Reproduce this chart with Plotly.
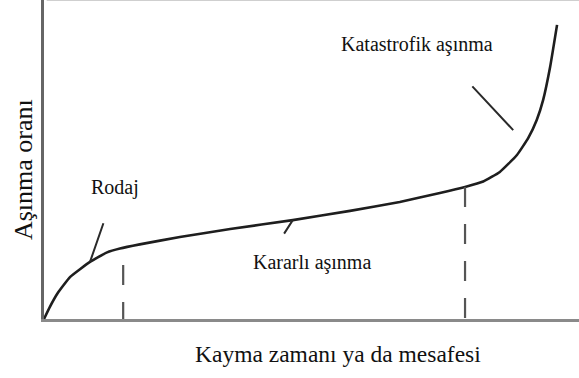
import plotly.graph_objects as go

# Wear curve: sliding distance (x) vs wear rate (y), arbitrary units 0-100
distance = [0.0, 1.1, 2.6, 4.9, 8.6, 11.8, 14.2, 17.9, 25.4, 34.8, 46.5, 57.2,
            66.5, 74.0, 78.7, 82.1, 85.2, 88.4, 90.5, 92.1, 93.3, 94.6, 95.9]
wear_rate = [0.0, 3.8, 8.2, 13.2, 17.9, 20.9, 22.1, 23.4, 25.7, 28.2, 31.0, 33.9,
             36.7, 39.5, 41.4, 43.1, 46.1, 51.4, 56.7, 62.4, 68.7, 79.0, 92.2]

# Boundaries between the wear regimes (x) and the heights the dashed markers reach
regime_bounds = [14.8, 78.7]
bound_tops = [16.9, 41.4]

# Regime labels: text, label position, leader line (from -> to)
labels = ["Rodaj", "Kararlı aşınma", "Katastrofik aşınma"]
label_x = [13.3, 50.1, 69.7]
label_y = [41.1, 17.6, 85.9]
leader_from_x = [8.6, 46.5, 87.7]
leader_from_y = [17.9, 31.0, 59.2]
leader_to_x = [11.2, 44.7, 79.8]
leader_to_y = [30.5, 26.3, 73.4]

x_title = "Kayma zamanı ya da mesafesi"
y_title = "Aşınma oranı"

SERIF = "Liberation Serif, Times New Roman, serif"

fig = go.Figure()

fig.add_trace(go.Scatter(
    x=distance, y=wear_rate, mode="lines",
    line=dict(color="#1e1e1e", width=2.6, shape="spline", smoothing=0.4),
    hoverinfo="skip", showlegend=False,
))

for bx, top in zip(regime_bounds, bound_tops):
    fig.add_trace(go.Scatter(
        x=[bx, bx], y=[top, 0], mode="lines",
        line=dict(color="#555555", width=2.2, dash="20px,17px"),
        hoverinfo="skip", showlegend=False,
    ))

annotations = []
for fx, fy, tx, ty in zip(leader_from_x, leader_from_y, leader_to_x, leader_to_y):
    annotations.append(dict(
        x=fx, y=fy, ax=tx, ay=ty, xref="x", yref="y", axref="x", ayref="y",
        text="", showarrow=True, arrowhead=0, arrowwidth=2, arrowcolor="#2a2a2a",
        standoff=0, startstandoff=0,
    ))
for txt, lx, ly in zip(labels, label_x, label_y):
    annotations.append(dict(
        x=lx, y=ly, xref="x", yref="y", text=txt, showarrow=False,
        font=dict(family=SERIF, size=20, color="#111111"),
        xanchor="center", yanchor="middle",
    ))

annotations.append(dict(
    x=(338 - 44) / 535, y=0, xref="paper", yref="paper", yshift=-35,
    text=x_title, showarrow=False, xanchor="center", yanchor="middle",
    font=dict(family=SERIF, size=23.5, color="#111111"),
))
annotations.append(dict(
    x=0, y=0.467, xref="paper", yref="paper", xshift=-21,
    text=y_title, showarrow=False, textangle=-90, xanchor="center", yanchor="middle",
    font=dict(family=SERIF, size=26, color="#111111"),
))

fig.update_layout(
    width=579, height=378,
    margin=dict(l=44, r=0, t=0, b=59),
    paper_bgcolor="white", plot_bgcolor="white",
    annotations=annotations,
    shapes=[dict(type="line", xref="paper", yref="paper", x0=0.005, x1=1, y0=1, y1=1,
                 line=dict(color="#cfcfcf", width=2))],
    xaxis=dict(range=[0, 100], showgrid=False, zeroline=False, showticklabels=False,
               ticks="", showline=True, linecolor="#8a8a8a", linewidth=2.5, fixedrange=True),
    yaxis=dict(range=[0, 100], showgrid=False, zeroline=False, showticklabels=False,
               ticks="", showline=True, linecolor="#666666", linewidth=2.5, fixedrange=True),
)

fig.write_html("out.html", config={"displayModeBar": False})
